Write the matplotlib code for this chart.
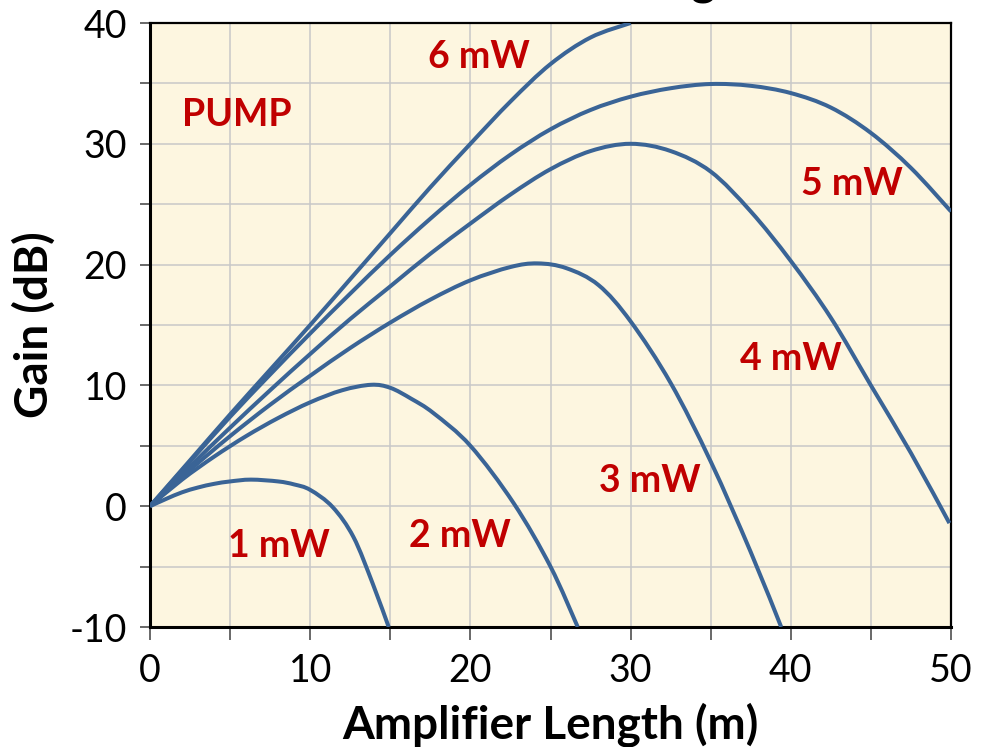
import numpy as np
import matplotlib
matplotlib.use("Agg")
from matplotlib import pyplot as plt
from matplotlib.path import Path
from matplotlib.patches import PathPatch

# gain curves read per pump power: length (m) and gain (dB)
len_1mw = [0, 1, 2, 3, 4, 5, 6.3, 8, 9, 10, 11.4, 12.7, 13.9, 14.9]
gain_1mw = [0, 0.6, 1.15, 1.55, 1.85, 2.05, 2.2, 2.05, 1.8, 1.35, -0.07, -2.55, -6.4, -10]

len_2mw = [0, 2, 4, 6, 8, 10, 12, 13.8, 15, 16.3, 17.7, 20, 22.7, 25, 26.7]
gain_2mw = [0, 2.2, 4.1, 5.8, 7.3, 8.6, 9.6, 10.05, 9.8, 8.9, 7.7, 5.0, 0.25, -5.0, -10]

len_3mw = [0, 2.5, 5, 7.5, 10, 12.5, 15, 17.5, 20, 22.5, 24.2, 26, 28, 30, 32.5, 35, 37.5, 39.4]
gain_3mw = [0, 3.0, 5.8, 8.4, 10.8, 13.1, 15.2, 17.1, 18.7, 19.8, 20.1, 19.7, 18.3, 15.3, 10.2, 3.7,
            -3.8, -10]

len_4mw = [0, 2.5, 5, 7.5, 10, 12.5, 15, 17.5, 20, 22.5, 25, 27.5, 30, 32.5, 35, 37.5, 40, 42.5, 45, 47.5, 49.9]
gain_4mw = [0, 3.3, 6.5, 9.6, 12.6, 15.5, 18.2, 20.9, 23.4, 25.8, 27.9, 29.4, 30.0, 29.4, 27.7, 24.4,
            20.3, 15.6, 10.0, 4.4, -1.4]

len_5mw = [0, 2.5, 5, 7.5, 10, 12.5, 15, 17.5, 20, 22.5, 25, 27.5, 30, 32.5, 35, 37.5, 40, 42.5, 45, 47.5, 50]
gain_5mw = [0, 3.7, 7.4, 10.9, 14.3, 17.6, 20.8, 23.8, 26.6, 29.1, 31.2, 32.8, 33.9, 34.6, 34.95, 34.8,
            34.2, 33.0, 30.9, 28.0, 24.4]

len_6mw = [0, 2.5, 5, 7.5, 10, 12.5, 15, 17.5, 20, 22.5, 25, 27.5, 30]
gain_6mw = [0, 3.8, 7.6, 11.3, 15.0, 18.8, 22.6, 26.4, 30.0, 33.5, 36.6, 38.8, 40.0]

curves = [(len_1mw, gain_1mw), (len_2mw, gain_2mw), (len_3mw, gain_3mw),
          (len_4mw, gain_4mw), (len_5mw, gain_5mw), (len_6mw, gain_6mw)]

# label text and the (length, gain) of its baseline centre
labels = ['PUMP', '6 mW', '5 mW', '4 mW', '3 mW', '2 mW', '1 mW']
label_x = [5.4, 20.5, 43.8, 40.0, 31.2, 19.35, 8.05]
label_y = [31.5, 36.3, 25.8, 11.3, 1.2, -3.4, -4.2]

line_col = '#3A6496'
red = '#C00000'
font = ['Lato', 'DejaVu Sans']

plt.rcParams['font.family'] = font


def smooth_path(xs, ys):
    # Catmull-Rom style cubic segments through every point, like a smoothed spreadsheet line
    pts = np.column_stack([xs, ys]).astype(float)
    verts = [pts[0]]
    codes = [Path.MOVETO]
    n = len(pts)
    for i in range(n - 1):
        p0 = pts[i - 1] if i > 0 else pts[i]
        p1, p2 = pts[i], pts[i + 1]
        p3 = pts[i + 2] if i + 2 < n else pts[i + 1]
        verts += [p1 + (p2 - p0) / 6, p2 - (p3 - p1) / 6, p2]
        codes += [Path.CURVE4] * 3
    return Path(verts, codes)


fig = plt.figure(figsize=(9.81, 7.47), dpi=100)
ax = fig.add_axes([150 / 981, 1 - 627 / 747, 801 / 981, 604 / 747])
ax.set_facecolor('#FDF6E0')

for xs, ys in curves:
    ax.add_patch(PathPatch(smooth_path(xs, ys), facecolor='none', edgecolor=line_col,
                           linewidth=2.9, capstyle='butt', zorder=3))

for txt, x, y in zip(labels, label_x, label_y):
    ax.text(x, y, txt, color=red, fontsize=27, fontweight='bold',
            ha='center', va='baseline', zorder=4)

ax.set_xlim(0, 50)
ax.set_ylim(-10, 40)
ax.set_xticks(np.arange(0, 51, 5))
ax.set_xticklabels([str(v) if v % 10 == 0 else '' for v in range(0, 51, 5)])
ax.set_yticks(np.arange(-10, 41, 5))
ax.set_yticklabels([str(v) if v % 10 == 0 else '' for v in range(-10, 41, 5)])
ax.grid(True, color='#C8C8C8', linewidth=1.1, zorder=0)
ax.set_axisbelow(True)

ax.tick_params(axis='both', direction='out', labelsize=27, color='#404040', width=1.1)
ax.tick_params(axis='x', length=9, pad=10)
ax.tick_params(axis='y', length=7.5, pad=9)

for side in ['left', 'bottom']:
    ax.spines[side].set_linewidth(2.2)
for side in ['top', 'right']:
    ax.spines[side].set_linewidth(1.6)

ax.set_xlabel('Amplifier Length (m)', fontsize=33, fontweight='bold', labelpad=9)
ax.set_ylabel('Gain (dB)', fontsize=33, fontweight='bold', labelpad=10)

# chart title sits above the top edge, mostly cut off
fig.text(0.55, 1 + 5 / 747, 'Gain vs. Fiber Length', fontsize=34, fontweight='bold',
         ha='center', va='baseline')

fig.savefig('out.png', dpi=100)
